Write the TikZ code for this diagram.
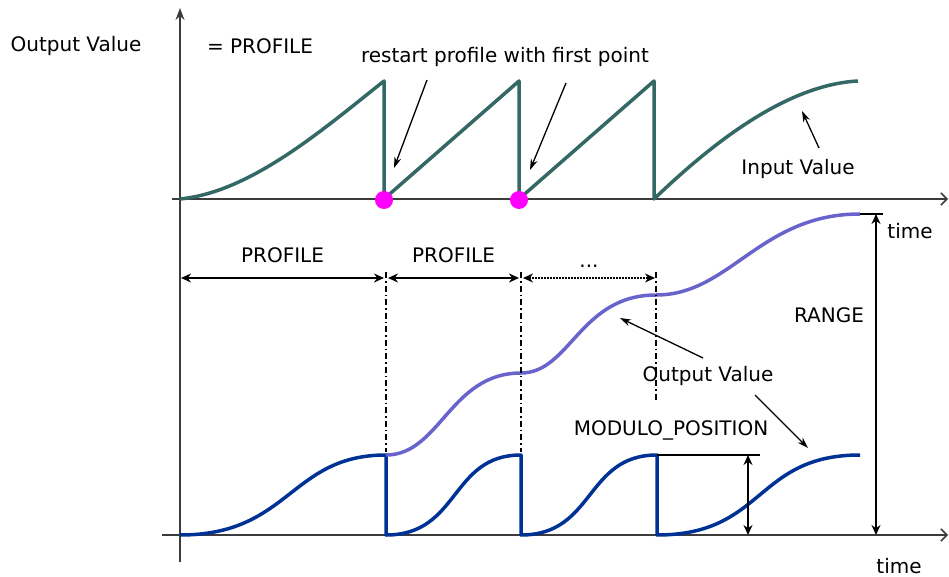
\documentclass[tikz,border=0pt]{standalone}
\usepackage{fontspec}
\setmainfont{DejaVu Sans}
\usetikzlibrary{positioning, arrows.meta, calc}
\definecolor{inputteal}{RGB}{52, 104, 100}
\definecolor{outputviolet}{RGB}{104, 100, 204}
\definecolor{moduloblue}{RGB}{0, 50, 150}
\definecolor{restartpink}{RGB}{255, 0, 255}
\definecolor{axisgray}{RGB}{60, 60, 60}

\begin{document}
\begin{tikzpicture}[
    x=1pt, y=-1pt,
    lbl/.style={font=\fontsize{20}{23}\selectfont, inner sep=1pt},
    axisline/.style={axisgray, line width=1.5pt},
    curve/.style={line width=3.5pt, line join=round},
    pointer/.style={black, line width=1.3pt, -{Stealth[length=11pt, width=7pt]}},
    dimarrow/.style={
      black, line width=1.6pt,
      {Stealth[length=10pt, width=9pt]}-{Stealth[length=10pt, width=9pt]}
    },
    cutline/.style={black, line width=1.3pt, dash pattern=on 6pt off 3pt on 1.5pt off 3pt},
    restartdot/.style={circle, fill=restartpink, minimum size=18pt, inner sep=0pt},
]
    \useasboundingbox (0,0) rectangle (949,577);

    % Axes
    \coordinate (ybot) at (180,562);
    \coordinate (ytop) at (180,8);
    \coordinate (inL) at (172,199);
    \coordinate (inR) at (948,199);
    \coordinate (outL) at (162,535);
    \coordinate (outR) at (948,535);
    \draw[axisline, -{Stealth[length=12pt, width=9pt]}] (ybot) -- (ytop);
    \draw[axisline, -{Straight Barb[length=6pt, width=12pt]}] (inL) -- (inR);
    \draw[axisline, -{Straight Barb[length=6pt, width=12pt]}] (outL) -- (outR);

    % Input value (profile restarted)
    \coordinate (i0) at (180,199);
    \coordinate (p1) at (384,81);
    \coordinate (r1) at (384,199);
    \coordinate (p2) at (519,81);
    \coordinate (r2) at (519,199);
    \coordinate (p3) at (654,81);
    \coordinate (r3) at (654,199);
    \coordinate (iend) at (858,81);
    \draw[curve, inputteal] (i0) .. controls (250,192) and (320,132) .. (p1)
        -- (r1) -- (p2) -- (r2) -- (p3) -- (r3)
        .. controls (700,155) and (780,85) .. (iend);
    \node[restartdot] (rd1) at (384,200) {};
    \node[restartdot] (rd2) at (519,200) {};

    % Output value (modulo)
    \coordinate (b0) at (180,535);
    \coordinate (t1) at (386,455);
    \coordinate (b1) at (386,535);
    \coordinate (t2) at (521,455);
    \coordinate (b2) at (521,535);
    \coordinate (t3) at (657,455);
    \coordinate (b3) at (657,535);
    \coordinate (bend) at (860,455);
    \draw[curve, moduloblue] (b0) .. controls (290,535) and (290,455) .. (t1)
        -- (b1) .. controls (460,535) and (450,455) .. (t2)
        -- (b2) .. controls (595,535) and (585,455) .. (t3)
        -- (b3) .. controls (765,535) and (755,455) .. (bend);

    % Output value (absolute)
    \coordinate (o2) at (521,373);
    \coordinate (o3) at (656,295);
    \coordinate (oend) at (860,214);
    \draw[curve, outputviolet] (t1) .. controls (440,455) and (450,373) .. (o2)
        .. controls (570,373) and (580,295) .. (o3)
        .. controls (730,295) and (760,214) .. (oend);

    % Profile borders
    \coordinate (c1t) at (386,272);
    \coordinate (c1b) at (386,452);
    \coordinate (c2t) at (521,272);
    \coordinate (c2b) at (521,452);
    \coordinate (c3t) at (656,272);
    \coordinate (c3b) at (656,400);
    \draw[cutline] (c1t) -- (c1b);
    \draw[cutline] (c2t) -- (c2b);
    \draw[cutline] (c3t) -- (c3b);

    \coordinate (d0) at (181,278);
    \coordinate (d1l) at (384,278);
    \coordinate (d1r) at (388,278);
    \coordinate (d2l) at (519,278);
    \coordinate (d2r) at (523,278);
    \coordinate (d3) at (655,278);
    \draw[dimarrow] (d0) -- node[lbl, above=13pt] (prof1) {PROFILE} (d1l);
    \draw[dimarrow] (d1r) -- node[lbl, above=13pt] (prof2) {PROFILE} (d2l);
    \draw[dimarrow, line width=1.3pt, dash pattern=on 1.5pt off 1.5pt] (d2r) -- node[lbl, above=9pt] (more) {...} (d3);

    % Modulo position and range
    \coordinate (mr) at (760,455);
    \coordinate (mt) at (748,455);
    \coordinate (mb) at (748,535);
    \draw[black, line width=1.3pt] (t3) -- (mr);
    \draw[dimarrow, line width=1.3pt] (mt) -- (mb);
    \coordinate (rr) at (883,214);
    \coordinate (rt) at (876,214);
    \coordinate (rb) at (876,535);
    \draw[black, line width=1.3pt] (oend) -- (rr);
    \draw[dimarrow, line width=1.3pt] (rt) -- (rb);

    % Labels
    \node[lbl] (outlbl) at (76,46) {Output Value};
    \node[lbl] (eqprof) at (260,46) {= PROFILE};
    \node[lbl] (restart) at (505,57) {restart profile with first point};
    \node[lbl] (inlbl) at (798,169) {Input Value};
    \node[lbl] (time1) at (910,231) {time};
    \node[lbl] (time2) at (899,566) {time};
    \node[lbl] (range) at (829,315) {RANGE};
    \node[lbl] (outval) at (708,376) {Output Value};
    \node[lbl] (modpos) at (671,430) {MODULO\_POSITION};

    % Pointers
    \coordinate (ra1) at (427,80);
    \coordinate (rh1) at (394,168);
    \coordinate (ra2) at (566,83);
    \coordinate (rh2) at (530,170);
    \coordinate (ia) at (819,148);
    \coordinate (ih) at (802,111);
    \coordinate (oa1) at (703,358);
    \coordinate (oh1) at (620,318);
    \coordinate (oa2) at (755,395);
    \coordinate (oh2) at (808,448);
    \draw[pointer] (ra1) -- (rh1);
    \draw[pointer] (ra2) -- (rh2);
    \draw[pointer] (ia) -- (ih);
    \draw[pointer] (oa1) -- (oh1);
    \draw[pointer] (oa2) -- (oh2);
\end{tikzpicture}
\end{document}
